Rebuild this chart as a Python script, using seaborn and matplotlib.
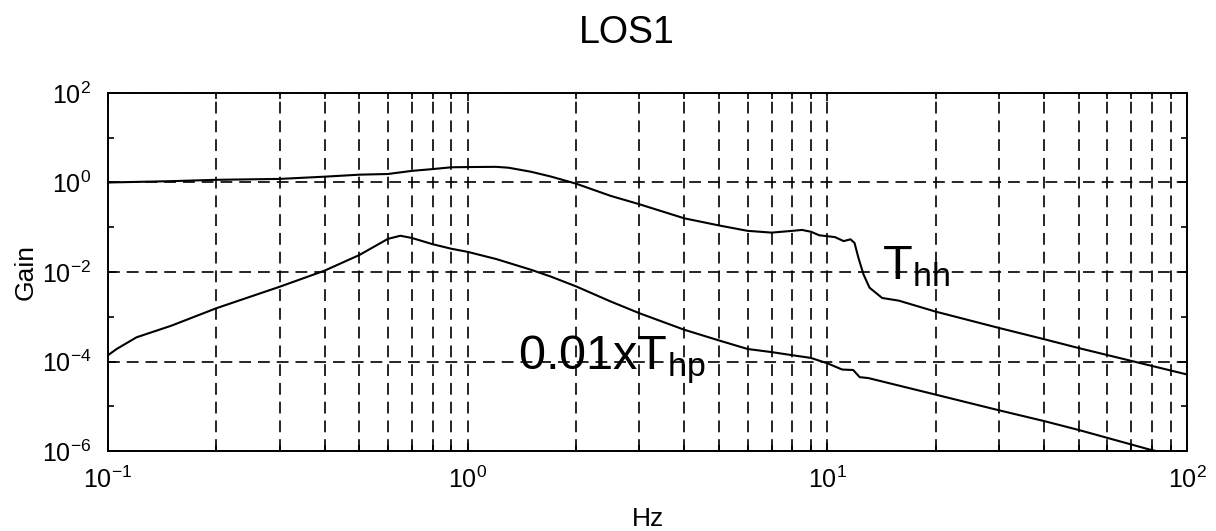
import numpy as np
import pandas as pd
import matplotlib
matplotlib.use("Agg")
import matplotlib.pyplot as plt
import matplotlib.ticker as mticker
import seaborn as sns

# ---- data (frequency in Hz, gain as log10) ----
f_hh = [0.1, 0.15, 0.2, 0.3, 0.4, 0.5, 0.6, 0.7, 0.8, 0.9, 1.0, 1.2, 1.3, 1.5, 1.7,
        2.0, 2.5, 3.0, 4.0, 5.0, 6.0, 7.0, 8.0, 8.5, 9.0, 9.5, 10.0, 10.5, 11.1,
        11.6, 11.9, 12.2, 12.6, 13.1, 14.2, 15.8, 20.0, 30.0, 40.0, 50.0, 100.0]
log_hh = [0.0, 0.03, 0.06, 0.08, 0.13, 0.175, 0.19, 0.26, 0.30, 0.34, 0.345, 0.35, 0.33,
          0.24, 0.135, -0.025, -0.30, -0.485, -0.80, -0.96, -1.08, -1.12, -1.08, -1.06,
          -1.10, -1.18, -1.20, -1.22, -1.31, -1.27, -1.35, -1.68, -2.05, -2.35, -2.58,
          -2.64, -2.885, -3.25, -3.50, -3.70, -4.29]

f_hp = [0.1, 0.1057, 0.12, 0.15, 0.2, 0.3, 0.4, 0.5, 0.6, 0.65, 0.7, 0.8, 0.9, 1.0,
        1.2, 1.5, 1.7, 2.0, 2.5, 3.0, 4.0, 5.0, 6.0, 7.0, 8.0, 9.0, 10.0, 11.0, 11.8,
        12.3, 13.0, 20.0, 30.0, 40.0, 50.0, 78.9, 100.0]
log_hp = [-3.86, -3.72, -3.46, -3.20, -2.81, -2.33, -1.97, -1.62, -1.26, -1.19, -1.24,
          -1.38, -1.48, -1.55, -1.71, -1.95, -2.10, -2.32, -2.66, -2.92, -3.29, -3.53,
          -3.72, -3.79, -3.86, -3.92, -4.04, -4.18, -4.19, -4.35, -4.37, -4.74, -5.09,
          -5.33, -5.53, -5.97, -6.15]

y_major = [1e-6, 1e-4, 1e-2, 1e0, 1e2]
y_minor = [1e-5, 1e-3, 1e-1, 1e1]

title = "LOS1"
xlabel = "Hz"
ylabel = "Gain"
label_hh = r"T$_{\mathregular{hh}}$"
label_hp = r"0.01xT$_{\mathregular{hp}}$"

df = pd.concat([
    pd.DataFrame({"Hz": f_hh, "Gain": 10.0 ** np.array(log_hh), "series": "hh"}),
    pd.DataFrame({"Hz": f_hp, "Gain": 10.0 ** np.array(log_hp), "series": "hp"}),
])

sns.set_style("ticks")
plt.rcParams["font.family"] = ["Liberation Sans", "DejaVu Sans"]
plt.rcParams["mathtext.fontset"] = "custom"
plt.rcParams["mathtext.rm"] = "Liberation Sans"
plt.rcParams["mathtext.it"] = "Liberation Sans"
plt.rcParams["lines.scale_dashes"] = False
for k in ["text.color", "axes.labelcolor", "xtick.color", "ytick.color", "axes.edgecolor"]:
    plt.rcParams[k] = "black"

fig = plt.figure(figsize=(12.16, 5.31), dpi=100)
ax = fig.add_axes([108 / 1216, 1 - 451 / 531, 1079 / 1216, 358 / 531])

sns.lineplot(data=df, x="Hz", y="Gain", units="series", estimator=None,
             color="black", linewidth=1.5, ax=ax, legend=False, sort=True)

ax.set_xscale("log")
ax.set_yscale("log")
ax.set_xlim(0.1, 100)
ax.set_ylim(1e-6, 1e2)

ax.yaxis.set_major_locator(mticker.FixedLocator(y_major))
ax.yaxis.set_minor_locator(mticker.FixedLocator(y_minor))
ax.yaxis.set_minor_formatter(mticker.NullFormatter())
ax.xaxis.set_major_locator(mticker.LogLocator(base=10))
ax.xaxis.set_minor_locator(mticker.LogLocator(base=10, subs=np.arange(2, 10)))
ax.xaxis.set_minor_formatter(mticker.NullFormatter())

dash = (0, (8.5, 5))
ax.grid(True, which="both", axis="x", color="black", linestyle=dash, linewidth=1.2)
ax.grid(True, which="major", axis="y", color="black", linestyle=dash, linewidth=1.2)

for s in ax.spines.values():
    s.set_visible(True)
    s.set_linewidth(1.4)
    s.set_color("black")

ax.tick_params(which="both", direction="in", top=True, right=True, colors="black",
               width=1.2)
ax.tick_params(which="major", length=6, labelsize=18)
ax.tick_params(which="minor", length=4)
ax.tick_params(axis="y", which="major", pad=12)
ax.tick_params(axis="x", which="major", pad=11)

ax.set_xlabel(xlabel, fontsize=19, labelpad=10)
ax.set_ylabel(ylabel, fontsize=19, labelpad=3)
ax.set_title(title, fontsize=27, pad=36, x=0.481)

ax.text(14.2, 10 ** -2.17, label_hh, fontsize=35, ha="left", va="baseline")
ax.text(1.38, 10 ** -4.17, label_hp, fontsize=35, ha="left", va="baseline")

fig.savefig("out.png", dpi=100)
